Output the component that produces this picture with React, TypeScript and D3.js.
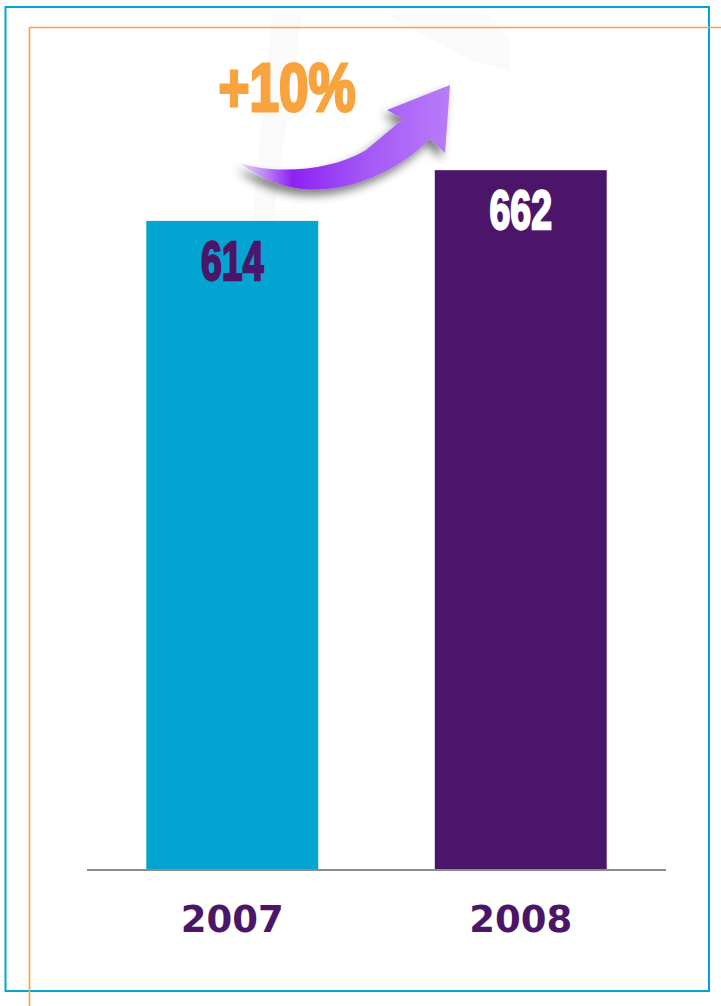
import React from "react";
import * as d3 from "d3";

const categories = ["2007", "2008"];
const values = [614, 662];
const valueLabels = ["614", "662"];
const changeLabel = "+10%";

const W = 721;
const H = 1006;
const BLUE = "#02A5D2";
const PURPLE = "#4B166A";
const ORANGE = "#F9A33F";

export default function App() {
  const x = d3.scaleBand<string>().domain(categories).range([87, 666]).paddingInner(0.404).paddingOuter(0.2055);
  const y = d3.scaleLinear().domain([0, 700]).range([870, 870 - 740]);
  const barColors = [BLUE, PURPLE];
  const labelColors = [PURPLE, "#FFFFFF"];

  const arrowPath =
    "M240,163 C272,174 330,172 366,150 L403,119 L387,110 L450,85 L445,153 L430,139 C402,168 352,194 302,189 C276,186 256,176 240,163 Z";

  return (
    <svg width={W} height={H} style={{ position: "absolute", left: 0, top: 0, display: "block", background: "#fff" }}>
      <defs>
        <linearGradient id="arrowGrad" x1="240" y1="0" x2="450" y2="0" gradientUnits="userSpaceOnUse">
          <stop offset="0" stopColor="#EADCFB" />
          <stop offset="0.25" stopColor="#8C22F3" />
          <stop offset="0.6" stopColor="#A458F6" />
          <stop offset="1" stopColor="#B87CF8" />
        </linearGradient>
        <filter id="shadow" x="-30%" y="-30%" width="160%" height="160%">
          <feGaussianBlur in="SourceAlpha" stdDeviation="5" />
          <feOffset dx="-4" dy="6" result="b" />
          <feComponentTransfer>
            <feFuncA type="linear" slope="0.5" />
          </feComponentTransfer>
          <feMerge>
            <feMergeNode />
            <feMergeNode in="SourceGraphic" />
          </feMerge>
        </filter>
      </defs>

      {/* faint watermark shapes */}
      <path d="M272,15 L302,15 L270,240 L250,240 Z" fill="#FAFAFA" />
      <path d="M388,15 L490,15 L510,40 L510,70 L470,60 Z" fill="#FAFAFA" />

      {/* frames */}
      <rect x={5.5} y={7} width={703.5} height={984} fill="none" stroke={BLUE} strokeWidth={2} />
      <line x1={30} y1={27.5} x2={721} y2={27.5} stroke={ORANGE} strokeWidth={1.6} />
      <line x1={29.5} y1={27} x2={29.5} y2={1006} stroke={ORANGE} strokeWidth={1.6} />

      {/* bars */}
      {categories.map((c, i) => (
        <rect key={c} x={x(c)} y={y(values[i])} width={x.bandwidth()} height={y(0) - y(values[i])} fill={barColors[i]} />
      ))}

      {/* axis line */}
      <line x1={87} y1={y(0)} x2={666} y2={y(0)} stroke="#8C8C8C" strokeWidth={2} />

      {/* value labels */}
      {categories.map((c, i) => {
        const cx = (x(c) ?? 0) + x.bandwidth() / 2;
        const by = y(values[i]) + 59;
        return (
          <text
            key={"v" + c}
            transform={`translate(${cx},${by}) scale(0.68,1)`}
            textAnchor="middle"
            fontFamily="'Liberation Sans Narrow', 'Liberation Sans', Arial, sans-serif"
            fontWeight="bold"
            fontSize={55}
            fill={labelColors[i]}
            stroke={labelColors[i]}
            strokeWidth={2.4}
          >
            {valueLabels[i]}
          </text>
        );
      })}

      {/* category labels */}
      {categories.map((c) => (
        <text
          key={"c" + c}
          x={(x(c) ?? 0) + x.bandwidth() / 2}
          y={932}
          textAnchor="middle"
          fontFamily="'DejaVu Sans', Verdana, sans-serif"
          fontWeight="bold"
          fontSize={37}
          fill={PURPLE}
        >
          {c}
        </text>
      ))}

      {/* arrow */}
      <path d={arrowPath} fill="url(#arrowGrad)" filter="url(#shadow)" />

      {/* change label */}
      <text
        transform="translate(287,111) scale(0.78,1)"
        textAnchor="middle"
        fontFamily="'Liberation Sans Narrow', 'Liberation Sans', Arial, sans-serif"
        fontWeight="bold"
        fontSize={68}
        fill={ORANGE}
        stroke={ORANGE}
        strokeWidth={3}
      >
        {changeLabel}
      </text>
    </svg>
  );
}
